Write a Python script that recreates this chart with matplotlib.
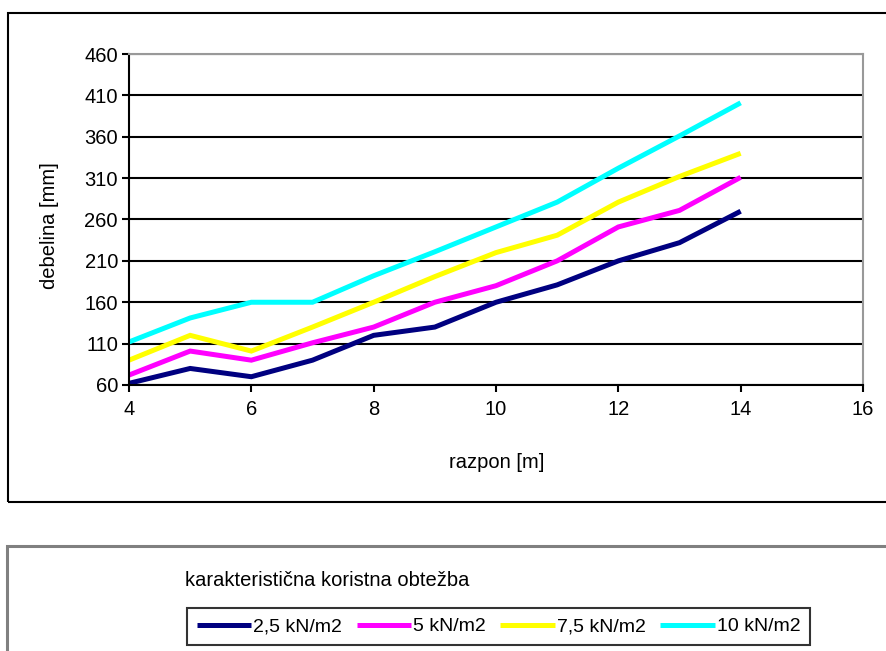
import matplotlib.pyplot as plt
from matplotlib.patches import Rectangle

plt.rcParams['font.family'] = ['Liberation Sans', 'DejaVu Sans']

# razpon [m] and debelina [mm] for each useful load
razpon = [4, 5, 6, 7, 8, 9, 10, 11, 12, 13, 14]
deb_25 = [62, 80, 70, 90, 120, 130, 160, 181, 210, 232, 270]
deb_5 = [72, 101, 90, 111, 130, 160, 180, 210, 251, 271, 311]
deb_75 = [90, 120, 101, 130, 160, 191, 220, 241, 281, 312, 340]
deb_10 = [112, 141, 160, 160, 192, 221, 251, 281, 322, 361, 401]

labels = ['2,5 kN/m2', '5 kN/m2', '7,5 kN/m2', '10 kN/m2']
colors = ['#000080', '#ff00ff', '#ffff00', '#00ffff']
series = [deb_25, deb_5, deb_75, deb_10]

W, H = 887, 651
fig = plt.figure(figsize=(W / 100, H / 100), dpi=100)

# outer frames
fig.patches.append(Rectangle((8 / W, 1 - 502 / H), 900 / W, 489 / H,
                             transform=fig.transFigure, fill=False,
                             edgecolor='black', linewidth=1.5))
fig.patches.append(Rectangle((7 / W, -0.02), 900 / W, 1 - 546 / H + 0.02,
                             transform=fig.transFigure, fill=False,
                             edgecolor='#808080', linewidth=2.2))

ax = fig.add_axes([129 / W, 1 - 385 / H, 734 / W, 331 / H])
lines = []
for y, c, lab in zip(series, colors, labels):
    ln, = ax.plot(razpon, y, color=c, linewidth=3.6, label=lab,
                  solid_joinstyle='miter', solid_capstyle='butt')
    lines.append(ln)

ax.set_xlim(4, 16)
ax.set_ylim(60, 460)
ax.set_xticks(range(4, 17, 2))
ax.set_yticks(range(60, 461, 50))
ax.grid(axis='y', color='black', linewidth=1.5)
ax.set_axisbelow(True)
ax.tick_params(labelsize=14.5, direction='out', length=5, width=1.5)
ax.tick_params(axis='y', pad=3)
ax.tick_params(axis='x', pad=6)

for side in ['top', 'right']:
    ax.spines[side].set_color('#999999')
    ax.spines[side].set_linewidth(1.5)
for side in ['left', 'bottom']:
    ax.spines[side].set_linewidth(1.5)

fig.text(497 / W, 1 - 462 / H, 'razpon [m]', fontsize=14.5,
         ha='center', va='center')
fig.text(50 / W, 1 - 226 / H, 'debelina [mm]', fontsize=14.5,
         ha='center', va='center', rotation=90)

fig.text(185 / W, 1 - 581 / H, 'karakteristična koristna obtežba',
         fontsize=14.5, va='center', ha='left')

leg = fig.legend(handles=lines, loc='upper left',
                 bbox_to_anchor=(187 / W, 1 - 608 / H), ncol=4,
                 fontsize=14, frameon=True, fancybox=False,
                 handlelength=2.8, handletextpad=0.1, columnspacing=0.75,
                 borderpad=0.5, borderaxespad=0)
leg.get_frame().set_edgecolor('black')
leg.get_frame().set_linewidth(1.5)

fig.savefig('out.png', dpi=100)
